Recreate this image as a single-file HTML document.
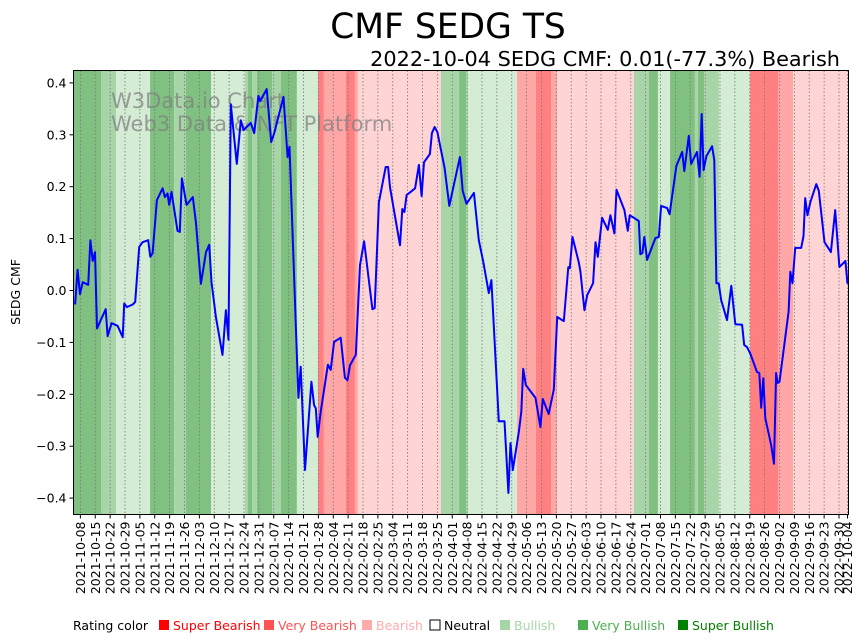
<!DOCTYPE html>
<html><head><meta charset="utf-8">
<style>
body{margin:0;background:#fff;}
svg{display:block;font-family:"DejaVu Sans","Liberation Sans",sans-serif;}
</style></head>
<body>
<svg id="chart" width="867" height="641" viewBox="0 0 867 641" xmlns="http://www.w3.org/2000/svg">
<text x="448" y="38" text-anchor="middle" font-size="34.5">CMF SEDG TS</text>
<text x="840" y="66" text-anchor="end" font-size="20.8">2022-10-04 SEDG CMF: 0.01(-77.3%) Bearish</text>
<g id="bands"></g>
<g id="grid"></g>
<text x="111" y="108" font-size="21" fill="#808080" fill-opacity="0.75">W3Data.io Chart</text>
<text x="111" y="131" font-size="21" fill="#808080" fill-opacity="0.75">Web3 Data &amp; NFT Platform</text>
<path id="line" fill="none" stroke="#0000ff" stroke-width="2" stroke-linejoin="round"/>
<rect x="73.5" y="70.5" width="775" height="444" fill="none" stroke="#000" stroke-width="1"/>
<g id="yaxis"></g>
<g id="xaxis"></g>
<text transform="translate(20,292) rotate(-90)" text-anchor="middle" font-size="12.5">SEDG CMF</text>
<g id="legend"></g>
</svg>
<script>
// Data (x values are days since 2021-10-05)
const bandStarts = [-0.5,12.7,19.8,35.8,47.1,52.7,64.5,80.5,81.9,83.8,86.1,93.2,97.4,104.9,114.8,117.6,128,132.2,133.6,172.7,181.2,184.5,185.4,208.5,217.4,224.5,227.3,263.5,270.6,274.8,280.5,292.2,293.6,296.5,303.5,318.1,331.3,338.4];
const bandRatings = [3,2,1,3,2,3,1,2,3,2,3,2,3,1,-3,-2,-3,-2,-1,2,3,2,1,-2,-3,-2,-1,2,3,1,3,2,3,2,1,-3,-2,-1];
const bandEnd = 364.5;
const pointDays = [0.5,1.7,2.8,4.1,6.7,7.7,8.8,9.9,10.8,14.9,15.8,17.7,20.5,22.9,23.6,24.9,27.6,28.8,30.7,32.3,34.9,35.9,37,39,41.7,42.8,44,44.8,45.9,48.7,49.8,50.8,53,55.9,57.4,59.7,62.1,63.6,64.7,66.8,69.9,71.5,72.7,73.8,76.6,78.5,79.8,83.2,84.8,86.8,87.6,90.7,92.8,94.2,98.6,100.5,101.4,105.6,106.7,108.7,111.7,113,113.8,114.7,116.1,119.5,120.8,122.4,125.5,127.5,128.7,129.9,132.6,134.6,136.5,140.4,141.5,143.5,146.7,147.8,148.7,153.4,154.5,155.5,156.5,158.4,160.5,162.3,163.6,164.7,167.5,168.4,169.7,171,174.4,176.6,181.6,182.9,184.7,188.2,190.5,192.6,195.2,196.4,199.9,202.6,204.4,205.4,206.5,209.3,210.5,211.4,212.6,217.2,219.5,220.6,223.4,225.8,227.4,230.5,232.6,233.3,234.6,237.5,238.3,240.2,241.5,244.3,245.4,246.5,248.5,251.2,252.4,254.3,255.3,259,260.6,261.5,265.8,266.5,267.5,268.4,269.7,273.6,275.2,276.3,279.1,280.3,283.5,286.2,287.2,289.3,290.4,293.2,294.4,295.4,296.3,297.6,300.3,301.3,302.3,303.4,304.5,307.3,309.3,311.2,314.4,315.4,316.7,318.3,321.4,322.5,323.4,324.4,325.3,328.1,329.4,330.4,331.1,332,336.3,337.1,338.1,339.4,342.2,343.3,344.1,345.2,346.5,349.3,350.5,353.2,356.2,358.2,360.2,363,364];
const cmfValues = [-0.027,0.040,-0.007,0.016,0.011,0.097,0.057,0.074,-0.073,-0.036,-0.088,-0.063,-0.068,-0.090,-0.025,-0.032,-0.027,-0.022,0.084,0.093,0.097,0.065,0.072,0.174,0.197,0.180,0.187,0.165,0.190,0.115,0.113,0.216,0.165,0.180,0.130,0.013,0.074,0.088,0.016,-0.051,-0.124,-0.038,-0.095,0.359,0.244,0.328,0.309,0.323,0.303,0.375,0.365,0.388,0.286,0.303,0.373,0.257,0.277,-0.207,-0.147,-0.346,-0.176,-0.221,-0.227,-0.282,-0.234,-0.143,-0.153,-0.099,-0.091,-0.168,-0.173,-0.144,-0.124,0.049,0.095,-0.036,-0.034,0.170,0.238,0.238,0.199,0.087,0.157,0.151,0.184,0.190,0.197,0.242,0.182,0.247,0.263,0.303,0.315,0.305,0.236,0.163,0.257,0.192,0.167,0.188,0.097,0.055,-0.005,0.020,-0.252,-0.252,-0.390,-0.294,-0.346,-0.273,-0.234,-0.151,-0.182,-0.207,-0.263,-0.209,-0.238,-0.191,-0.051,-0.059,0.045,0.043,0.103,0.055,0.037,-0.038,-0.009,0.014,0.093,0.065,0.140,0.117,0.145,0.110,0.194,0.155,0.115,0.145,0.134,0.070,0.072,0.103,0.059,0.101,0.103,0.163,0.159,0.147,0.240,0.267,0.230,0.298,0.244,0.267,0.219,0.340,0.232,0.259,0.278,0.251,0.014,0.014,-0.018,-0.057,0.009,-0.065,-0.066,-0.105,-0.109,-0.122,-0.157,-0.159,-0.226,-0.169,-0.246,-0.298,-0.334,-0.159,-0.178,-0.176,-0.041,0.036,0.014,0.082,0.082,0.105,0.178,0.145,0.170,0.205,0.192,0.093,0.074,0.155,0.045,0.057,0.013];
const yTicks = [-0.4,-0.3,-0.2,-0.1,0.0,0.1,0.2,0.3,0.4];
const xTickLabels = ["2021-10-08","2021-10-15","2021-10-22","2021-10-29","2021-11-05","2021-11-12","2021-11-19","2021-11-26","2021-12-03","2021-12-10","2021-12-17","2021-12-24","2021-12-31","2022-01-07","2022-01-14","2022-01-21","2022-01-28","2022-02-04","2022-02-11","2022-02-18","2022-02-25","2022-03-04","2022-03-11","2022-03-18","2022-03-25","2022-04-01","2022-04-08","2022-04-15","2022-04-22","2022-04-29","2022-05-06","2022-05-13","2022-05-20","2022-05-27","2022-06-03","2022-06-10","2022-06-17","2022-06-24","2022-07-01","2022-07-08","2022-07-15","2022-07-22","2022-07-29","2022-08-05","2022-08-12","2022-08-19","2022-08-26","2022-09-02","2022-09-09","2022-09-16","2022-09-23","2022-09-30","2022-10-04"];
const legendLabels = ["Super Bearish","Very Bearish","Bearish","Neutral","Bullish","Very Bullish","Super Bullish"];
const legendColors = ["#ff0000","#ff5252","#ffabab","#ffffff","#a5d6a7","#4caf50","#008000"];

const NS="http://www.w3.org/2000/svg";
const PL=73.5, PR=848.5, PT=70.5, PB=514.5;
const bandColor={"-3":"#ff8080","-2":"#ffa6a6","-1":"#ffd4d4","1":"#d4ebd4","2":"#a8d5a8","3":"#80c080"};
function xScale(d){return 74+d*2.125;}
function yScale(v){return 290.5-v*519;}
function dayOf(s){return Math.round((new Date(s+"T00:00:00Z")-new Date("2021-10-05T00:00:00Z"))/86400000);}
function mk(t,a,p){const e=document.createElementNS(NS,t);for(const k in a)e.setAttribute(k,a[k]);p.appendChild(e);return e;}

const gB=document.getElementById('bands');
bandStarts.forEach((s,i)=>{
  const e=i+1<bandStarts.length?bandStarts[i+1]:bandEnd;
  const x0=Math.max(PL,xScale(s)), x1=Math.min(PR,xScale(e));
  const r=mk('rect',{x:x0,y:PT,width:Math.max(0,x1-x0),height:PB-PT,fill:bandColor[bandRatings[i]]},gB);
  
  
});

const gG=document.getElementById('grid'), gX=document.getElementById('xaxis');
xTickLabels.forEach(l=>{
  const x=xScale(dayOf(l));
  const gl=mk('line',{x1:x,x2:x,y1:PT,y2:PB,stroke:'#777','stroke-width':0.8,'stroke-dasharray':'1.5,2'},gG);
  
  
  const tk=mk('line',{x1:x,x2:x,y1:PB,y2:PB+4,stroke:'#000','stroke-width':1},gX);
  
  
  const t=mk('text',{transform:`translate(${x+4.5},${PB+7}) rotate(-90)`,'text-anchor':'end','font-size':12.5},gX);
  t.textContent=l;
  
  
});

const gY=document.getElementById('yaxis');
yTicks.forEach(v=>{
  const y=yScale(v);
  const tk=mk('line',{x1:PL-4,x2:PL,y1:y,y2:y,stroke:'#000','stroke-width':1},gY);
  
  
  const t=mk('text',{x:PL-7,y:y+4.5,'text-anchor':'end','font-size':12.5},gY);
  t.textContent=v.toFixed(1).replace('-','\u2212');
  
  
});

let d='';
pointDays.forEach((p,i)=>{d+=(i?'L':'M')+xScale(p).toFixed(1)+','+yScale(cmfValues[i]).toFixed(1);});
document.getElementById('line').setAttribute('d',d);

const gL=document.getElementById('legend');
const lt=mk('text',{x:73,y:630,'font-size':12.5},gL);
lt.textContent='Rating color';


const lx=[159,264,362,430,500,578,678];
legendLabels.forEach((l,i)=>{
  const r=mk('rect',{x:lx[i],y:620,width:10,height:10,fill:legendColors[i],stroke:i==3?'#000':'none','stroke-width':1},gL);
  
  
  const t=mk('text',{x:lx[i]+14,y:630,'font-size':12.5,fill:i==3?'#000':legendColors[i]},gL);
  t.textContent=l;
  
  
});
</script>
</body></html>
